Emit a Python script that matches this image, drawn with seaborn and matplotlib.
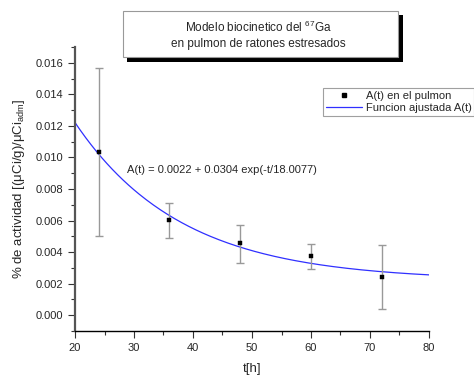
import numpy as np
import pandas as pd
import seaborn as sns
import matplotlib
matplotlib.use("Agg")
import matplotlib.pyplot as plt
from matplotlib.patches import Rectangle
from matplotlib.lines import Line2D

# Data
t_hours = [24, 36, 48, 60, 72]
activity = [0.01035, 0.00605, 0.00457, 0.00377, 0.00244]
err_low = [0.00499, 0.00491, 0.00333, 0.00295, 0.00042]
err_high = [0.01565, 0.00712, 0.00573, 0.00453, 0.00447]

# Fit parameters (given in chart)
fit_a0 = 0.0022
fit_a1 = 0.0304
fit_tau = 18.0077
fit_t = np.linspace(20, 80, 200)
fit_y = fit_a0 + fit_a1 * np.exp(-fit_t / fit_tau)

sns.set_style("ticks")
plt.rcParams['font.family'] = ['Liberation Sans', 'DejaVu Sans']
plt.rcParams['mathtext.fontset'] = 'custom'
plt.rcParams['mathtext.rm'] = 'Liberation Sans'
plt.rcParams['mathtext.it'] = 'Liberation Sans'

W, H = 474, 379
fig = plt.figure(figsize=(W / 100, H / 100), dpi=100)
ax = fig.add_axes([75 / W, 1 - 331 / H, (429 - 75) / W, (331 - 47) / H])

df_fit = pd.DataFrame({"t": fit_t, "A": fit_y})
df_pts = pd.DataFrame({"t": t_hours, "A": activity})

sns.lineplot(data=df_fit, x="t", y="A", ax=ax, color="#3030ff", linewidth=0.9)
yerr = [np.array(activity) - np.array(err_low), np.array(err_high) - np.array(activity)]
ax.errorbar(t_hours, activity, yerr=yerr, fmt="none", ecolor="#999999",
            elinewidth=1.0, capsize=3, capthick=1.0)
sns.scatterplot(data=df_pts, x="t", y="A", ax=ax, marker="s", color="black",
                s=10, edgecolor="black", linewidth=0.3, zorder=5)

ax.set_xlim(20, 80)
ax.set_ylim(-0.001, 0.017)
ax.set_xticks([20, 30, 40, 50, 60, 70, 80])
ax.set_xticks(np.arange(25, 80, 10), minor=True)
ax.set_yticks(np.arange(0, 0.0161, 0.002))
ax.set_yticks(np.arange(-0.001, 0.0171, 0.002), minor=True)
ax.set_yticklabels([f"{v:.3f}" for v in np.arange(0, 0.0161, 0.002)])
sns.despine(ax=ax)
ax.tick_params(axis="both", which="major", length=5, width=0.8, labelsize=8, direction="out", color="#333333")
ax.tick_params(axis="both", which="minor", length=3, width=0.8, direction="out", color="#333333")
ax.spines["left"].set_linewidth(1.6)
ax.spines["left"].set_color("#555555")
ax.spines["bottom"].set_linewidth(1.0)
ax.spines["bottom"].set_color("black")

ax.set_xlabel("t[h]", fontsize=9.5, labelpad=7)
ax.set_ylabel(r"% de actividad [($\mu$Ci/g)/$\mu$Ci$_{\mathrm{adm}}$]", fontsize=9.5, labelpad=6)

ax.text(28.8, 0.00922, "A(t) = 0.0022 + 0.0304 exp(-t/18.0077)", fontsize=8, va="center", ha="left")

# Title box with shadow
shadow = Rectangle((127 / W, 1 - 62 / H), (403 - 127) / W, (62 - 15) / H,
                   transform=fig.transFigure, facecolor="black", edgecolor="none", zorder=1)
box = Rectangle((123 / W, 1 - 57 / H), (398 - 123) / W, (57 - 11) / H,
                transform=fig.transFigure, facecolor="white", edgecolor="#999999", linewidth=0.8, zorder=2)
fig.patches.extend([shadow, box])
fig.text(258 / W, 1 - 27 / H, r"Modelo biocinetico del $^{67}$Ga", ha="center", va="center", fontsize=8.5, zorder=3)
fig.text(258 / W, 1 - 44 / H, "en pulmon de ratones estresados", ha="center", va="center", fontsize=8.5, zorder=3)

# Legend
handles = [Line2D([], [], marker="s", color="black", linestyle="none", markersize=3),
           Line2D([], [], color="#3030ff", linewidth=0.9)]
leg = fig.legend(handles, ["A(t) en el pulmon", "Funcion ajustada A(t)"],
                 loc="upper left", bbox_to_anchor=(323 / W, 1 - 88 / H),
                 frameon=True, fancybox=False, fontsize=8, handlelength=3.3,
                 handletextpad=0.3, borderpad=0.25, labelspacing=0.2, borderaxespad=0)
leg.get_frame().set_edgecolor("#888888")
leg.get_frame().set_linewidth(0.8)

fig.savefig("out.png", dpi=100)
